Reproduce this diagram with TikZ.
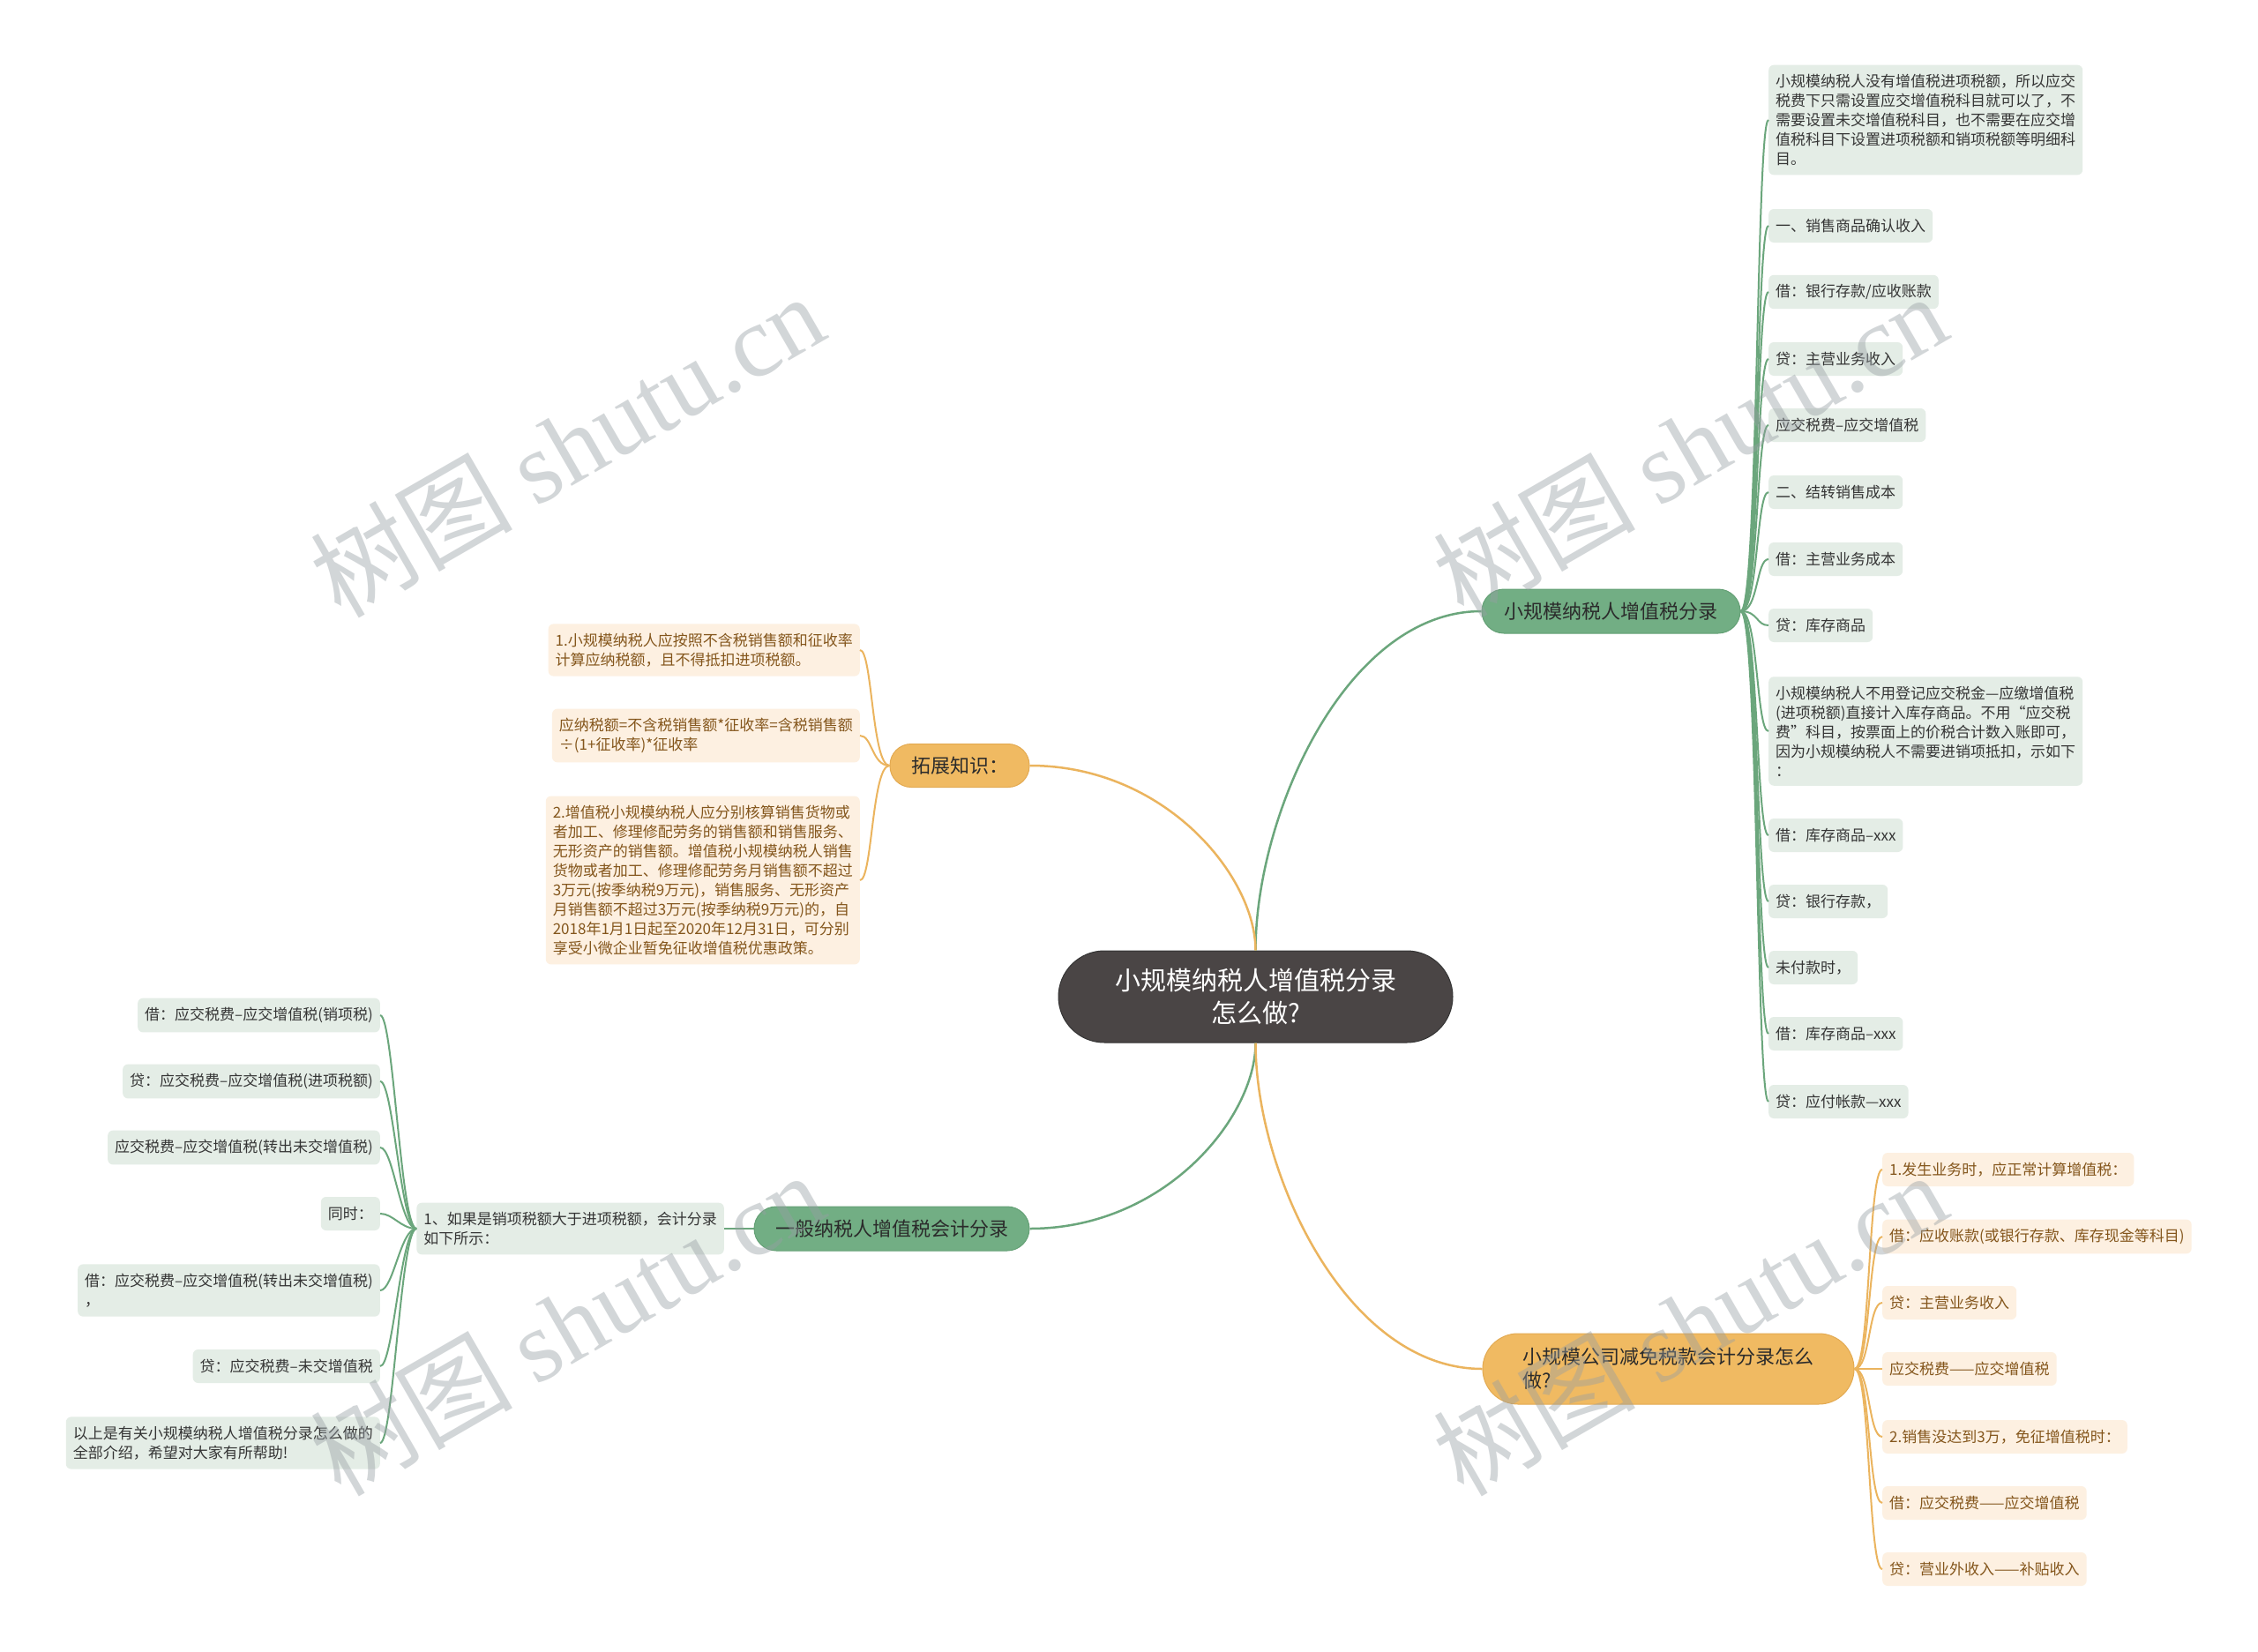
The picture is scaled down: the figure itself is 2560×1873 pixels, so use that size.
\documentclass[tikz,border=0pt]{standalone}
\usepackage{fontspec}
\setmainfont{Noto Sans CJK SC}
\newfontfamily\wmfont{Liberation Serif}
\usetikzlibrary{calc}
\definecolor{cdark}{HTML}{4A4545}
\definecolor{cgreen}{HTML}{72AE84}
\definecolor{cgreenedge}{HTML}{64A075}
\definecolor{cgreenline}{HTML}{6BA67C}
\definecolor{cgreenleaf}{HTML}{E4EDE6}
\definecolor{corange}{HTML}{F0BA62}
\definecolor{corangeedge}{HTML}{E3AA52}
\definecolor{corangeline}{HTML}{EBB45E}
\definecolor{corangeleaf}{HTML}{FDF0E1}
\definecolor{corangetext}{HTML}{84561C}
\definecolor{ctext}{HTML}{353535}
\definecolor{cbtext}{HTML}{2B2B2B}
\definecolor{cwm}{HTML}{969EA3}
\begin{document}
\begin{tikzpicture}[x=1pt,y=-1pt,
  centernode/.style={fill=cdark, draw=black!80, line width=1pt, text=white, rounded corners=52pt,
    minimum width=447pt, minimum height=104pt, align=center,
    font=\fontsize{29}{37}\selectfont, inner sep=0pt},
  gbranch/.style={fill=cgreen, draw=cgreenedge, line width=1pt, text=cbtext, rounded corners=25pt,
    minimum height=50pt, font=\fontsize{22}{27}\selectfont, inner sep=0pt},
  obranch/.style={fill=corange, draw=corangeedge, line width=1pt, text=cbtext, rounded corners=24pt,
    minimum height=49pt, font=\fontsize{22}{27}\selectfont, inner sep=0pt},
  gleaf/.style={fill=cgreenleaf, text=ctext, rounded corners=6pt, inner xsep=8pt, inner ysep=10.5pt,
    minimum height=38pt, align=left, font=\fontsize{17}{22}\selectfont},
  oleaf/.style={fill=corangeleaf, text=corangetext, rounded corners=6pt, inner xsep=8pt, inner ysep=10.5pt,
    minimum height=38pt, align=left, font=\fontsize{17}{22}\selectfont},
  gmain/.style={draw=cgreenline, line width=2.5pt},
  omain/.style={draw=corangeline, line width=2.5pt},
  gsub/.style={draw=cgreenline, line width=2pt},
  osub/.style={draw=corangeline, line width=2pt},
  wm/.style={text=cwm, text opacity=0.42, font=\fontsize{115}{115}\selectfont, inner sep=0pt}
]
\useasboundingbox (0,0) rectangle (2560,1873);
\fill[white] (0,0) rectangle (2560,1873);

% center and branches
\node[centernode] (c) at (1423.5,1130) {小规模纳税人增值税分录\\怎么做?};
\node[gbranch, minimum width=293pt] (b1) at (1826.5,693) {小规模纳税人增值税分录};
\node[obranch, minimum width=158pt] (b2) at (1088,868) {拓展知识：};
\node[gbranch, minimum width=312pt] (b3) at (1011,1393) {一般纳税人增值税会计分录};
\node[obranch, minimum width=421pt, minimum height=80pt, rounded corners=40pt, align=left] (b4) at (1891.5,1552) {小规模公司减免税款会计分录怎么\\做?};

% right green leaves
\node[gleaf, anchor=west] (r1) at (2005,136) {小规模纳税人没有增值税进项税额，所以应交\\税费下只需设置应交增值税科目就可以了，不\\需要设置未交增值税科目，也不需要在应交增\\值税科目下设置进项税额和销项税额等明细科\\目。};
\node[gleaf, anchor=west] (r2) at (2005,256) {一、销售商品确认收入};
\node[gleaf, anchor=west] (r3) at (2005,331) {借：银行存款/应收账款};
\node[gleaf, anchor=west] (r4) at (2005,407) {贷：主营业务收入};
\node[gleaf, anchor=west] (r5) at (2005,482) {应交税费–应交增值税};
\node[gleaf, anchor=west] (r6) at (2005,558) {二、结转销售成本};
\node[gleaf, anchor=west] (r7) at (2005,634) {借：主营业务成本};
\node[gleaf, anchor=west] (r8) at (2005,709) {贷：库存商品};
\node[gleaf, anchor=west] (r9) at (2005,829) {小规模纳税人不用登记应交税金—应缴增值税\\(进项税额)直接计入库存商品。不用“应交税\\费”科目，按票面上的价税合计数入账即可，\\因为小规模纳税人不需要进销项抵扣，示如下\\：};
\node[gleaf, anchor=west] (r10) at (2005,947) {借：库存商品–xxx};
\node[gleaf, anchor=west] (r11) at (2005,1022) {贷：银行存款，};
\node[gleaf, anchor=west] (r12) at (2005,1097) {未付款时，};
\node[gleaf, anchor=west] (r13) at (2005,1172) {借：库存商品–xxx};
\node[gleaf, anchor=west] (r14) at (2005,1249) {贷：应付帐款—xxx};

% right orange leaves
\node[oleaf, anchor=west] (o1) at (2134,1326) {1.发生业务时，应正常计算增值税：};
\node[oleaf, anchor=west] (o2) at (2134,1402) {借：应收账款(或银行存款、库存现金等科目)};
\node[oleaf, anchor=west] (o3) at (2134,1477) {贷：主营业务收入};
\node[oleaf, anchor=west] (o4) at (2134,1552) {应交税费——应交增值税};
\node[oleaf, anchor=west] (o5) at (2134,1629) {2.销售没达到3万，免征增值税时：};
\node[oleaf, anchor=west] (o6) at (2134,1704) {借：应交税费——应交增值税};
\node[oleaf, anchor=west] (o7) at (2134,1779) {贷：营业外收入——补贴收入};

% left orange leaves
\node[oleaf, anchor=east] (k1) at (975,737) {1.小规模纳税人应按照不含税销售额和征收率\\计算应纳税额，且不得抵扣进项税额。};
\node[oleaf, anchor=east] (k2) at (975,834) {应纳税额=不含税销售额*征收率=含税销售额\\÷(1+征收率)*征收率};
\node[oleaf, anchor=east] (k3) at (975,998) {2.增值税小规模纳税人应分别核算销售货物或\\者加工、修理修配劳务的销售额和销售服务、\\无形资产的销售额。增值税小规模纳税人销售\\货物或者加工、修理修配劳务月销售额不超过\\3万元(按季纳税9万元)，销售服务、无形资产\\月销售额不超过3万元(按季纳税9万元)的，自\\2018年1月1日起至2020年12月31日，可分别\\享受小微企业暂免征收增值税优惠政策。};

% left green
\node[gleaf, anchor=east] (g0) at (821,1393) {1、如果是销项税额大于进项税额，会计分录\\如下所示：};
\node[gleaf, anchor=east] (g1) at (431,1151) {借：应交税费–应交增值税(销项税)};
\node[gleaf, anchor=east] (g2) at (431,1226) {贷：应交税费–应交增值税(进项税额)};
\node[gleaf, anchor=east] (g3) at (431,1301) {应交税费–应交增值税(转出未交增值税)};
\node[gleaf, anchor=east] (g4) at (431,1376) {同时：};
\node[gleaf, anchor=east] (g5) at (431,1463) {借：应交税费–应交增值税(转出未交增值税)\\，};
\node[gleaf, anchor=east] (g6) at (431,1549) {贷：应交税费–未交增值税};
\node[gleaf, anchor=east] (g7) at (431,1636) {以上是有关小规模纳税人增值税分录怎么做的\\全部介绍，希望对大家有所帮助!};

% main connectors
\draw[gmain] (c.north) .. controls ($(c.north)!0.4!(c.north|-b1.west)$) and ($(c.north|-b1.west)!0.4!(b1.west)$) .. (b1.west);
\draw[omain] (c.north) .. controls ($(c.north)!0.4!(c.north|-b2.east)$) and ($(c.north|-b2.east)!0.4!(b2.east)$) .. (b2.east);
\draw[gmain] (c.south) .. controls ($(c.south)!0.4!(c.south|-b3.east)$) and ($(c.south|-b3.east)!0.4!(b3.east)$) .. (b3.east);
\draw[omain] (c.south) .. controls ($(c.south)!0.4!(c.south|-b4.west)$) and ($(c.south|-b4.west)!0.4!(b4.west)$) .. (b4.west);

% sub connectors
\foreach \n in {r1,r2,r3,r4,r5,r6,r7,r8,r9,r10,r11,r12,r13,r14}
  \draw[gsub] (b1.east) .. controls +(20,0) and +(-14,0) .. (\n.west);
\foreach \n in {o1,o2,o3,o4,o5,o6,o7}
  \draw[osub] (b4.east) .. controls +(18,0) and +(-16,0) .. (\n.west);
\foreach \n in {k1,k2,k3}
  \draw[osub] (b2.west) .. controls +(-20,0) and +(14,0) .. (\n.east);
\draw[gsub] (b3.west) -- (g0.east);
\foreach \n in {g1,g2,g3,g4,g5,g6,g7}
  \draw[gsub] (g0.west) .. controls +(-18,0) and +(15,0) .. (\n.east);

% watermarks
\node[wm, anchor=base west, rotate=30] (wm1) at (386,703) {树图 {\wmfont shutu.cn}};
\node[wm, anchor=base west, rotate=30] (wm2) at (1659,703) {树图 {\wmfont shutu.cn}};
\node[wm, anchor=base west, rotate=30] (wm3) at (386,1699) {树图 {\wmfont shutu.cn}};
\node[wm, anchor=base west, rotate=30] (wm4) at (1659,1699) {树图 {\wmfont shutu.cn}};
\end{tikzpicture}
\end{document}
